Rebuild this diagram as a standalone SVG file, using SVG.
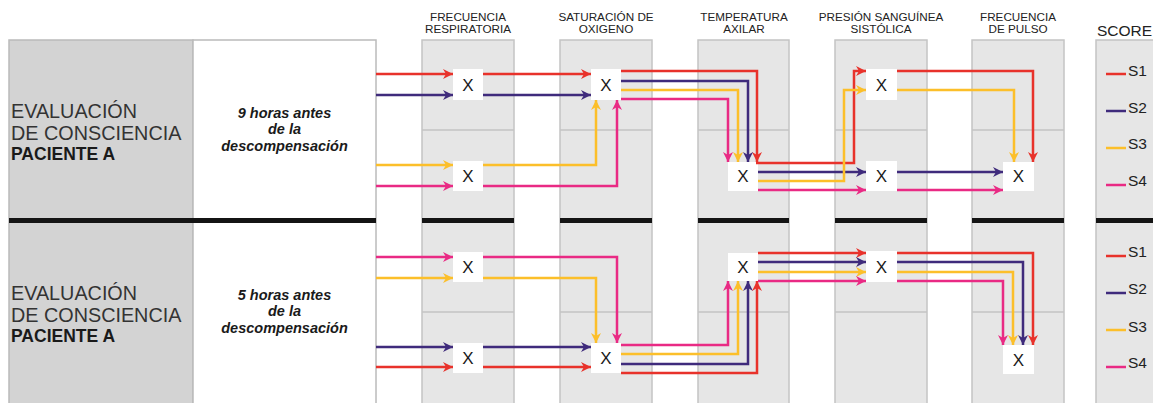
<svg xmlns="http://www.w3.org/2000/svg" width="1153" height="403" viewBox="0 0 1153 403">
<defs>
<style>
.col{fill:#e6e6e6;stroke:#c4c4c4;stroke-width:1.5}
.row{stroke:#c4c4c4;stroke-width:1.5}
.bar{fill:#141414}
.node rect{fill:#ffffff}
.node text{font-family:"Liberation Sans",Arial,sans-serif;font-size:17px;fill:#1a1a1a;text-anchor:middle}
.hdr{font-family:"Liberation Sans",Arial,sans-serif;font-size:11.7px;fill:#222;text-anchor:middle}
.big{font-family:"Liberation Sans",Arial,sans-serif;font-size:19.8px;fill:#333}
.bold{font-family:"Liberation Sans",Arial,sans-serif;font-size:17.5px;font-weight:bold;fill:#1a1a1a}
.ital{font-family:"Liberation Sans",Arial,sans-serif;font-size:14.5px;font-weight:bold;font-style:italic;fill:#1a1a1a;text-anchor:middle}
.leg{font-family:"Liberation Sans",Arial,sans-serif;font-size:15.5px;fill:#222}
.c path{fill:none;stroke-width:2.5}
.r{stroke:#e8322b}
.p{stroke:#3f2b7c}
.y{stroke:#fcbf2a}
.k{stroke:#e92a84}
</style>
<marker id="mr" markerUnits="userSpaceOnUse" markerWidth="11" markerHeight="11" refX="10" refY="5" orient="auto"><path d="M0,0 L10,5 L0,10 L3,5 z" fill="#e8322b"/></marker>
<marker id="mp" markerUnits="userSpaceOnUse" markerWidth="11" markerHeight="11" refX="10" refY="5" orient="auto"><path d="M0,0 L10,5 L0,10 L3,5 z" fill="#3f2b7c"/></marker>
<marker id="my" markerUnits="userSpaceOnUse" markerWidth="11" markerHeight="11" refX="10" refY="5" orient="auto"><path d="M0,0 L10,5 L0,10 L3,5 z" fill="#fcbf2a"/></marker>
<marker id="mk" markerUnits="userSpaceOnUse" markerWidth="11" markerHeight="11" refX="10" refY="5" orient="auto"><path d="M0,0 L10,5 L0,10 L3,5 z" fill="#e92a84"/></marker>
</defs>
<rect width="1153" height="403" fill="#ffffff"/>

<g id="background">
<rect x="9" y="40" width="184" height="370" fill="#d3d3d3" stroke="#bbbbbb" stroke-width="1.5"/>
<rect x="193" y="40" width="183" height="370" fill="#ffffff" stroke="#bbbbbb" stroke-width="1.5"/>
<rect class="col" x="422" y="40" width="92" height="370"/>
<rect class="col" x="560" y="40" width="92" height="370"/>
<rect class="col" x="698" y="40" width="91" height="370"/>
<rect class="col" x="835" y="40" width="92" height="370"/>
<rect class="col" x="972" y="40" width="92" height="370"/>
<rect class="col" x="1096" y="40" width="70" height="370"/>
<path class="row" d="M422,130H514M560,130H652M698,130H789M835,130H927M972,130H1064M422,312H514M560,312H652M698,312H789M835,312H927M972,312H1064"/>
<rect class="bar" x="9" y="218" width="367" height="5"/>
<rect class="bar" x="422" y="218" width="92" height="5"/>
<rect class="bar" x="560" y="218" width="92" height="5"/>
<rect class="bar" x="698" y="218" width="91" height="5"/>
<rect class="bar" x="835" y="218" width="92" height="5"/>
<rect class="bar" x="972" y="218" width="92" height="5"/>
<rect class="bar" x="1096" y="218" width="60" height="5"/>
</g>

<g id="headers">
<text class="hdr" x="468" y="21">FRECUENCIA</text>
<text class="hdr" x="468" y="33">RESPIRATORIA</text>
<text class="hdr" x="606" y="21">SATURACIÓN DE</text>
<text class="hdr" x="606" y="33">OXIGENO</text>
<text class="hdr" x="744" y="21">TEMPERATURA</text>
<text class="hdr" x="744" y="33">AXILAR</text>
<text class="hdr" x="881" y="21">PRESIÓN SANGUÍNEA</text>
<text class="hdr" x="881" y="33">SISTÓLICA</text>
<text class="hdr" x="1018" y="21">FRECUENCIA</text>
<text class="hdr" x="1018" y="33">DE PULSO</text>
<text class="leg" x="1097" y="36">SCORE</text>
</g>

<g id="label-top">
<text class="big" x="11" y="118">EVALUACIÓN</text>
<text class="big" x="11" y="140">DE CONSCIENCIA</text>
<text class="bold" x="11" y="160">PACIENTE A</text>
<text class="ital"><tspan x="284.5" y="118">9 horas antes</tspan><tspan x="284.5" y="134">de la</tspan><tspan x="284.5" y="151">descompensación</tspan></text>
</g>
<g id="label-bottom">
<text class="big" x="11" y="300">EVALUACIÓN</text>
<text class="big" x="11" y="322">DE CONSCIENCIA</text>
<text class="bold" x="11" y="342">PACIENTE A</text>
<text class="ital"><tspan x="284.5" y="300">5 horas antes</tspan><tspan x="284.5" y="316">de la</tspan><tspan x="284.5" y="333">descompensación</tspan></text>
</g>

<g id="nodes-top">
<g class="node" id="t-fr1"><rect x="453" y="69" width="30" height="31"/><text x="468" y="91">X</text></g>
<g class="node" id="t-fr2"><rect x="453" y="161" width="30" height="30"/><text x="468" y="182">X</text></g>
<g class="node" id="t-sat"><rect x="591" y="69" width="30" height="31"/><text x="606" y="91">X</text></g>
<g class="node" id="t-temp"><rect x="728" y="162" width="30" height="29"/><text x="743" y="182">X</text></g>
<g class="node" id="t-pres1"><rect x="866" y="69" width="31" height="31"/><text x="881.5" y="91">X</text></g>
<g class="node" id="t-pres2"><rect x="866" y="161" width="31" height="30"/><text x="881.5" y="182">X</text></g>
<g class="node" id="t-pulso"><rect x="1003" y="162" width="31" height="29"/><text x="1018.5" y="182">X</text></g>
</g>
<g id="nodes-bottom">
<g class="node" id="b-fr1"><rect x="453" y="252" width="30" height="30"/><text x="468" y="273">X</text></g>
<g class="node" id="b-fr2"><rect x="453" y="343" width="30" height="30"/><text x="468" y="364">X</text></g>
<g class="node" id="b-sat"><rect x="591" y="343" width="30" height="30"/><text x="606" y="364">X</text></g>
<g class="node" id="b-temp"><rect x="728" y="253" width="30" height="28"/><text x="743" y="273">X</text></g>
<g class="node" id="b-pres"><rect x="866" y="251" width="31" height="31"/><text x="881.5" y="273">X</text></g>
<g class="node" id="b-pulso"><rect x="1003" y="345" width="31" height="29"/><text x="1018.5" y="366">X</text></g>
</g>

<g id="connectors" class="c">
<path class="r" marker-end="url(#mr)" d="M376,74H453"/>
<path class="p" marker-end="url(#mp)" d="M376,95H453"/>
<path class="y" marker-end="url(#my)" d="M376,165H453"/>
<path class="k" marker-end="url(#mk)" d="M376,186H453"/>
<path class="r" marker-end="url(#mr)" d="M483,74H591"/>
<path class="p" marker-end="url(#mp)" d="M483,95H591"/>
<path class="y" marker-end="url(#my)" d="M483,165H596V100"/>
<path class="k" marker-end="url(#mk)" d="M483,186H617V100"/>
<path class="r" marker-end="url(#mr)" d="M621,71H757V162"/>
<path class="p" marker-end="url(#mp)" d="M621,81H748V162"/>
<path class="y" marker-end="url(#my)" d="M621,90H738V162"/>
<path class="k" marker-end="url(#mk)" d="M621,99H728V162"/>
<path class="r" marker-end="url(#mr)" d="M756,163H854V71H866"/>
<path class="p" marker-end="url(#mp)" d="M758,172H866"/>
<path class="y" marker-end="url(#my)" d="M758,181H844V90H866"/>
<path class="k" marker-end="url(#mk)" d="M758,190H866"/>
<path class="p" marker-end="url(#mp)" d="M897,172H1003"/>
<path class="k" marker-end="url(#mk)" d="M897,190H1003"/>
<path class="r" marker-end="url(#mr)" d="M897,71H1033V162"/>
<path class="y" marker-end="url(#my)" d="M897,90H1014V162"/>

<path class="k" marker-end="url(#mk)" d="M376,257H453"/>
<path class="y" marker-end="url(#my)" d="M376,278H453"/>
<path class="p" marker-end="url(#mp)" d="M376,347H453"/>
<path class="r" marker-end="url(#mr)" d="M376,367H453"/>
<path class="k" marker-end="url(#mk)" d="M483,257H617V343"/>
<path class="y" marker-end="url(#my)" d="M483,278H596V343"/>
<path class="p" marker-end="url(#mp)" d="M483,347H591"/>
<path class="r" marker-end="url(#mr)" d="M483,367H591"/>
<path class="k" marker-end="url(#mk)" d="M621,345H728V281"/>
<path class="y" marker-end="url(#my)" d="M621,354H738V281"/>
<path class="p" marker-end="url(#mp)" d="M621,364H748V281"/>
<path class="r" marker-end="url(#mr)" d="M621,373H757V281"/>
<path class="r" marker-end="url(#mr)" d="M758,253H866"/>
<path class="p" marker-end="url(#mp)" d="M758,262H866"/>
<path class="y" marker-end="url(#my)" d="M758,272H866"/>
<path class="k" marker-end="url(#mk)" d="M758,281H866"/>
<path class="r" marker-end="url(#mr)" d="M897,253H1033V345"/>
<path class="p" marker-end="url(#mp)" d="M897,262H1023V345"/>
<path class="y" marker-end="url(#my)" d="M897,272H1013V345"/>
<path class="k" marker-end="url(#mk)" d="M897,281H1003V345"/>
</g>

<g id="legend-top" class="c">
<path class="r" d="M1106,74H1126"/><text class="leg" x="1128" y="76">S1</text>
<path class="p" d="M1106,111H1126"/><text class="leg" x="1128" y="113">S2</text>
<path class="y" d="M1106,148H1126"/><text class="leg" x="1128" y="149">S3</text>
<path class="k" d="M1106,185H1126"/><text class="leg" x="1128" y="186">S4</text>
</g>
<g id="legend-bottom" class="c">
<path class="r" d="M1106,256H1126"/><text class="leg" x="1128" y="257">S1</text>
<path class="p" d="M1106,293H1126"/><text class="leg" x="1128" y="294">S2</text>
<path class="y" d="M1106,330H1126"/><text class="leg" x="1128" y="332">S3</text>
<path class="k" d="M1106,367H1126"/><text class="leg" x="1128" y="368">S4</text>
</g>
</svg>
